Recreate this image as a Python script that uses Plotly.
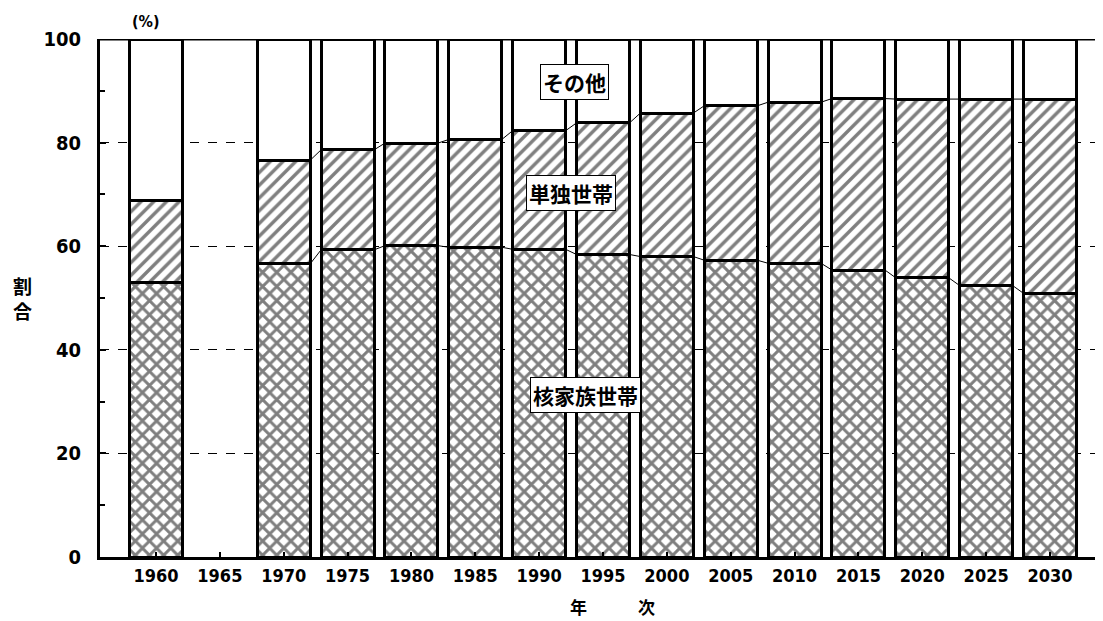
import plotly.graph_objects as go

years = ["1960", "1965", "1970", "1975", "1980", "1985", "1990", "1995",
         "2000", "2005", "2010", "2015", "2020", "2025", "2030"]
nuclear = [53.0, None, 56.6, 59.3, 60.1, 59.8, 59.4, 58.4, 58.0, 57.3, 56.7, 55.4, 53.9, 52.4, 50.9]
single = [15.9, None, 20.0, 19.3, 19.8, 20.8, 22.9, 25.4, 27.7, 29.8, 31.1, 33.1, 34.5, 36.0, 37.5]
other = [31.1, None, 23.4, 21.4, 20.1, 19.4, 17.7, 16.2, 14.3, 12.9, 12.2, 11.5, 11.6, 11.6, 11.6]
y_ticks = [0, 20, 40, 60, 80, 100]

BW = 0.83
xs = list(range(len(years)))
NFONT = "DejaVu Sans Condensed"
JP_FONT = "Noto Sans CJK JP"

fig = go.Figure()
fig.add_trace(go.Bar(x=xs, y=nuclear, width=BW, name="核家族世帯",
                     marker=dict(color="white", line=dict(color="black", width=3),
                                 pattern=dict(shape="x", fgcolor="black", bgcolor="white",
                                              size=10, solidity=0.5, fillmode="overlay"))))
fig.add_trace(go.Bar(x=xs, y=single, width=BW, name="単独世帯",
                     marker=dict(color="white", line=dict(color="black", width=3),
                                 pattern=dict(shape="/", fgcolor="black", bgcolor="white",
                                              size=9, solidity=0.38, fillmode="overlay"))))
fig.add_trace(go.Bar(x=xs, y=other, width=BW, name="その他",
                     marker=dict(color="white", line=dict(color="black", width=3))))

# connecting lines between consecutive bars
cum1 = nuclear
cum2 = [None if a is None else a + b for a, b in zip(nuclear, single)]
for series in (cum1, cum2):
    lx, ly = [], []
    for i in range(len(xs) - 1):
        if series[i] is None or series[i + 1] is None:
            continue
        lx += [xs[i] + BW / 2, xs[i + 1] - BW / 2, None]
        ly += [series[i], series[i + 1], None]
    fig.add_trace(go.Scatter(x=lx, y=ly, mode="lines", line=dict(color="black", width=1),
                             hoverinfo="skip", showlegend=False))

# top border at 100
fig.add_shape(type="line", xref="paper", x0=0, x1=1, yref="y", y0=100, y1=100,
              line=dict(color="black", width=3))

labels = [("その他", 6.55, 91.7), ("単独世帯", 6.5, 70.3), ("核家族世帯", 6.72, 31.3)]
for txt, xv, yv in labels:
    fig.add_annotation(x=xv, y=yv, text="<b>%s</b>" % txt, showarrow=False,
                       font=dict(family=JP_FONT, size=21, color="black"),
                       bgcolor="white", bordercolor="black", borderwidth=1, borderpad=2)

fig.add_annotation(xref="paper", yref="paper", x=0.03, y=1.056,
                   text="<b>(%)</b>", showarrow=False,
                   font=dict(family=NFONT, size=16, color="black"))
fig.add_annotation(xref="paper", yref="paper", x=-0.089, y=0.5,
                   text="<b>割<br>合</b>", showarrow=False,
                   font=dict(family=JP_FONT, size=19, color="black"))
fig.add_annotation(xref="paper", yref="paper", x=0.511, y=-0.1236,
                   text="<b>年　　　次</b>", showarrow=False,
                   font=dict(family=JP_FONT, size=17, color="black"))

fig.update_layout(
    barmode="stack", width=1095, height=613, showlegend=False,
    paper_bgcolor="white", plot_bgcolor="white",
    margin=dict(l=92, r=0, t=31, b=64, autoexpand=False),
    xaxis=dict(range=[-0.877, 14.83], tickmode="array", tickvals=xs, ticktext=years,
               ticks="inside", ticklen=5, tickwidth=2, tickcolor="black",
               showline=True, linecolor="black", linewidth=3, showgrid=False, zeroline=False,
               tickfont=dict(family=NFONT, size=18, color="black", weight="bold")),
    yaxis=dict(range=[0, 100], tickmode="array", tickvals=y_ticks,
               ticks="inside", ticklen=6, tickwidth=2, tickcolor="black",
               minor=dict(dtick=10, ticks="inside", ticklen=5, tickcolor="black", showgrid=False),
               showline=True, linecolor="black", linewidth=3, zeroline=False,
               showgrid=True, gridcolor="black", griddash="dash", gridwidth=1,
               ticklabelstandoff=12,
               tickfont=dict(family=NFONT, size=20, color="black", weight="bold")),
)
fig.write_html("out.html")
